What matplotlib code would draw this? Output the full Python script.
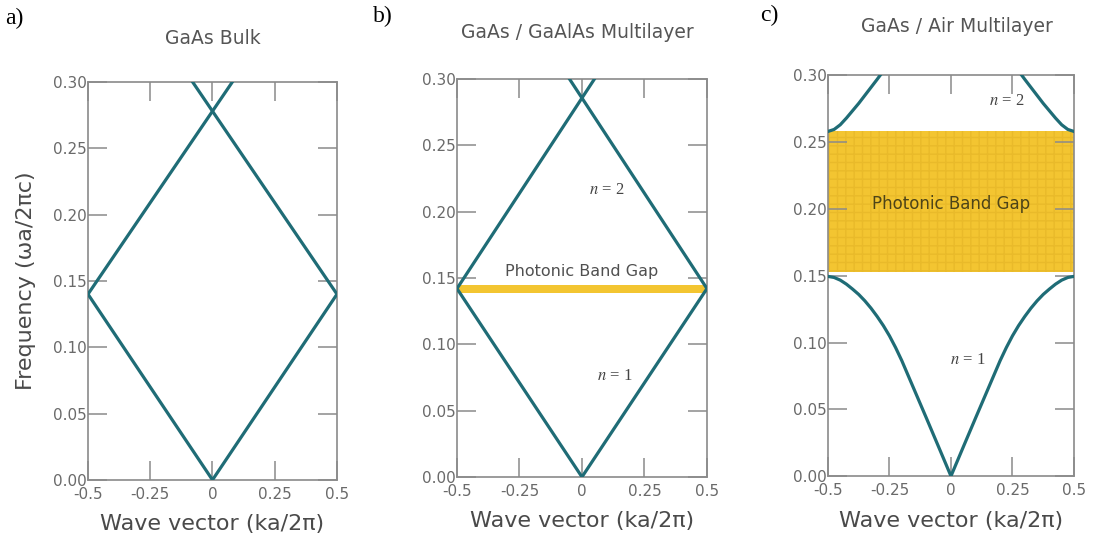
import numpy as np
import matplotlib
matplotlib.use('Agg')
from matplotlib import pyplot as plt

plt.rcParams['mathtext.fontset'] = 'stix'

# ---- data ----
# a) GaAs bulk: folded light line
bulk_k1 = [-0.5, 0.0, 0.5]
bulk_f1 = [0.140, 0.0, 0.140]
bulk_k2 = [-0.5, 0.08]
bulk_f2 = [0.140, 0.300]
bulk_k3 = [0.5, -0.08]
bulk_f3 = [0.140, 0.300]

# b) GaAs / GaAlAs multilayer
ml_k1 = [-0.5, 0.0, 0.5]
ml_f1 = [0.142, 0.0, 0.142]
ml_k2 = [-0.5, 0.05]
ml_f2 = [0.142, 0.300]
ml_k3 = [0.5, -0.05]
ml_f3 = [0.142, 0.300]
ml_gap = [0.1385, 0.1445]

# c) GaAs / Air multilayer, right half of each band (the plot is symmetric in k)
air_k1 = [0.0, 0.05, 0.10, 0.15, 0.20, 0.225, 0.25, 0.275, 0.30, 0.325, 0.35, 0.375,
          0.40, 0.425, 0.45, 0.475, 0.5]
air_f1 = [0.0, 0.0218, 0.0435, 0.065, 0.0865, 0.0962, 0.1050, 0.1127, 0.1195, 0.1257,
          0.1312, 0.1360, 0.1400, 0.1437, 0.1467, 0.1487, 0.1495]
air_k2 = [0.5, 0.475, 0.45, 0.425, 0.40, 0.375, 0.35, 0.325, 0.30, 0.28]
air_f2 = [0.258, 0.2595, 0.2630, 0.2680, 0.2735, 0.2790, 0.2850, 0.2910, 0.2970, 0.3020]
air_gap = [0.153, 0.258]

titles = ['GaAs Bulk', 'GaAs / GaAlAs Multilayer', 'GaAs / Air Multilayer']
letters = ['a)', 'b)', 'c)']
xticks = [-0.5, -0.25, 0, 0.25, 0.5]
xticklabels = ['-0.5', '-0.25', '0', '0.25', '0.5']
yticks = [0.0, 0.05, 0.10, 0.15, 0.20, 0.25, 0.30]
yticklabels = ['0.00', '0.05', '0.10', '0.15', '0.20', '0.25', '0.30']

# ---- style ----
line_c = '#1f6c76'
gray = '#8a8a8a'
yellow = '#f3c531'
lw = 2.3

fig = plt.figure(figsize=(10.93, 5.46), dpi=100)
rects = [[0.0805, 0.121, 0.2278, 0.729],
         [0.4181, 0.1264, 0.2287, 0.729],
         [0.7575, 0.128, 0.2251, 0.734]]
axes = [fig.add_axes(r) for r in rects]

for ax in axes:
    ax.set_xlim(-0.5, 0.5)
    ax.set_ylim(0, 0.30)
    ax.set_xticks(xticks)
    ax.set_xticklabels(xticklabels)
    ax.set_yticks(yticks)
    ax.set_yticklabels(yticklabels)
    ax.tick_params(direction='in', length=14, width=1.1, color=gray, top=True, right=True,
                   labelcolor='#6a6a6a', labelsize=11, pad=1)
    ax.tick_params(axis='x', pad=5)
    for s in ax.spines.values():
        s.set_color(gray)
        s.set_linewidth(1.2)
    ax.set_xlabel('Wave vector (ka/2π)', fontsize=16, color='#4a4a4a', labelpad=9)

# a)
ax = axes[0]
for k, f in [(bulk_k1, bulk_f1), (bulk_k2, bulk_f2), (bulk_k3, bulk_f3)]:
    ax.plot(k, f, color=line_c, lw=lw, solid_joinstyle='round', zorder=3)
ax.set_ylabel('Frequency (ωa/2πc)', fontsize=16, color='#4a4a4a', labelpad=12)

# b)
ax = axes[1]
ax.axhspan(ml_gap[0], ml_gap[1], color=yellow, lw=0, zorder=1)
for k, f in [(ml_k1, ml_f1), (ml_k2, ml_f2), (ml_k3, ml_f3)]:
    ax.plot(k, f, color=line_c, lw=lw, solid_joinstyle='round', zorder=3)
ax.text(0, 0.155, 'Photonic Band Gap', ha='center', va='center', fontsize=11.5, color='#505050')
ax.text(0.10, 0.216, '$n$ = 2', ha='center', va='center', fontsize=12, color='#444444',
        family='Liberation Serif')
ax.text(0.13, 0.076, '$n$ = 1', ha='center', va='center', fontsize=12, color='#444444',
        family='Liberation Serif')

# c)
ax = axes[2]
ax.axhspan(air_gap[0], air_gap[1], facecolor=yellow, edgecolor='#e9ba2a', hatch='++', lw=0, zorder=1)
for sign in (-1, 1):
    ax.plot(sign * np.asarray(air_k1), air_f1, color=line_c, lw=lw, solid_joinstyle='round', zorder=3)
    ax.plot(sign * np.asarray(air_k2), air_f2, color=line_c, lw=lw, solid_joinstyle='round', zorder=3)
ax.text(0, 0.204, 'Photonic Band Gap', ha='center', va='center', fontsize=12, color='#4d4418')
ax.text(0.225, 0.281, '$n$ = 2', ha='center', va='center', fontsize=12, color='#444444',
        family='Liberation Serif')
ax.text(0.07, 0.087, '$n$ = 1', ha='center', va='center', fontsize=12, color='#444444',
        family='Liberation Serif')

# titles and panel letters
title_pos = [(213 / 1093, 1 - 38 / 546), (577 / 1093, 1 - 33 / 546), (957 / 1093, 1 - 27 / 546)]
letter_pos = [(5 / 1093, 1 - 18 / 546), (373 / 1093, 1 - 16 / 546), (760 / 1093, 1 - 15 / 546)]
for t, (x, y) in zip(titles, title_pos):
    fig.text(x, y, t, ha='center', va='center', fontsize=13.5, color='#555555')
for t, (x, y) in zip(letters, letter_pos):
    fig.text(x, y, t, ha='left', va='center', fontsize=17, color='black', family='Liberation Serif')

fig.savefig('out.png', dpi=100)
